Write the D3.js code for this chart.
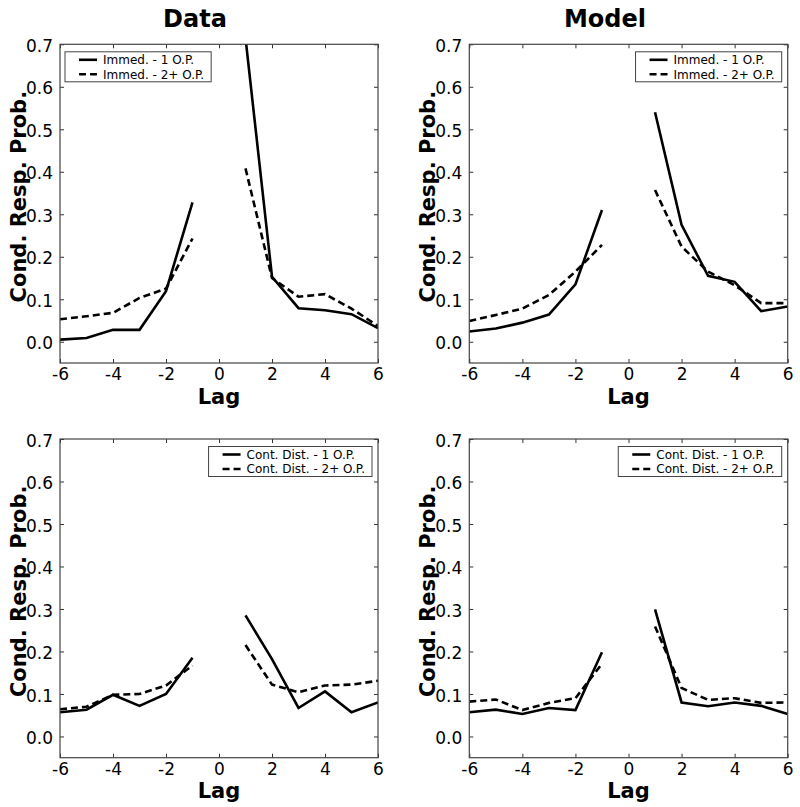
<!DOCTYPE html>
<html>
<head>
<meta charset="utf-8">
<script src="https://cdn.jsdelivr.net/npm/d3@7"></script>
<style>
  html, body { margin: 0; padding: 0; background: #fff; }
  svg { display: block; }
  text { font-family: "DejaVu Sans", sans-serif; fill: #000; }
</style>
</head>
<body>
<svg id="chart" width="800" height="807"></svg>
<script>
// ---- data ----
const lagsNeg = [-6, -5, -4, -3, -2, -1];
const lagsPos = [1, 2, 3, 4, 5, 6];
const xTicks = [-6, -4, -2, 0, 2, 4, 6];
const yTicks = [0.0, 0.1, 0.2, 0.3, 0.4, 0.5, 0.6, 0.7];
const columnTitles = ["Data", "Model"];

// Immediate, Data
const dataImm1Neg = [0.005, 0.009, 0.028, 0.028, 0.119, 0.328];
const dataImm1Pos = [0.715, 0.153, 0.079, 0.074, 0.065, 0.032];
const dataImm2Neg = [0.053, 0.060, 0.068, 0.103, 0.125, 0.243];
const dataImm2Pos = [0.408, 0.150, 0.106, 0.112, 0.078, 0.037];
// Immediate, Model
const modelImm1Neg = [0.024, 0.031, 0.045, 0.064, 0.135, 0.310];
const modelImm1Pos = [0.540, 0.275, 0.155, 0.141, 0.072, 0.083];
const modelImm2Neg = [0.049, 0.063, 0.078, 0.110, 0.165, 0.228];
const modelImm2Pos = [0.357, 0.224, 0.165, 0.133, 0.091, 0.091];
// Continual distractor, Data
const dataCd1Neg = [0.057, 0.063, 0.098, 0.072, 0.100, 0.185];
const dataCd1Pos = [0.285, 0.182, 0.067, 0.106, 0.057, 0.080];
const dataCd2Neg = [0.064, 0.070, 0.098, 0.100, 0.120, 0.167];
const dataCd2Pos = [0.215, 0.122, 0.104, 0.120, 0.122, 0.131];
// Continual distractor, Model
const modelCd1Neg = [0.057, 0.063, 0.053, 0.067, 0.062, 0.198];
const modelCd1Pos = [0.299, 0.080, 0.071, 0.080, 0.072, 0.053];
const modelCd2Neg = [0.082, 0.087, 0.062, 0.079, 0.090, 0.171];
const modelCd2Pos = [0.259, 0.114, 0.086, 0.090, 0.079, 0.080];

const legendImm = ["Immed. - 1 O.P.", "Immed. - 2+ O.P."];
const legendCd = ["Cont. Dist. - 1 O.P.", "Cont. Dist. - 2+ O.P."];

const panels = [
  { col: 0, row: 0, s1: [dataImm1Neg, dataImm1Pos], s2: [dataImm2Neg, dataImm2Pos], legend: legendImm, loc: "left" },
  { col: 1, row: 0, s1: [modelImm1Neg, modelImm1Pos], s2: [modelImm2Neg, modelImm2Pos], legend: legendImm, loc: "right" },
  { col: 0, row: 1, s1: [dataCd1Neg, dataCd1Pos], s2: [dataCd2Neg, dataCd2Pos], legend: legendCd, loc: "right" },
  { col: 1, row: 1, s1: [modelCd1Neg, modelCd1Pos], s2: [modelCd2Neg, modelCd2Pos], legend: legendCd, loc: "right" }
];

// ---- layout ----
const colX = [[60, 378], [469.3, 787.7]];
const rowY = [[44.3, 363], [439, 757.7]];
const lagOffset = [41, 40.5];
const titleX = [195, 605];

const svg = d3.select("#chart");

columnTitles.forEach((t, i) => {
  svg.append("text")
    .attr("x", titleX[i]).attr("y", 26.5)
    .attr("text-anchor", "middle")
    .style("font-size", "24px").style("font-weight", "bold")
    .text(t);
});

panels.forEach(p => {
  const [x0, x1] = colX[p.col];
  const [y0, y1] = rowY[p.row];
  const x = d3.scaleLinear().domain([-6, 6]).range([x0, x1]);
  const y = d3.scaleLinear().domain([-0.05, 0.7]).range([y1, y0]);
  const g = svg.append("g");

  const clipId = `clip-${p.col}-${p.row}`;
  g.append("clipPath").attr("id", clipId)
    .append("rect").attr("x", x0).attr("y", y0).attr("width", x1 - x0).attr("height", y1 - y0);

  const line = d3.line().x(d => x(d[0])).y(d => y(d[1]));
  const plotG = g.append("g").attr("clip-path", `url(#${clipId})`);

  const drawSeries = (vals, dash) => {
    [[lagsNeg, vals[0]], [lagsPos, vals[1]]].forEach(([lags, v]) => {
      plotG.append("path")
        .datum(lags.map((l, i) => [l, v[i]]))
        .attr("d", line)
        .attr("fill", "none")
        .attr("stroke", "#000")
        .attr("stroke-width", 2.6)
        .attr("stroke-linejoin", "miter")
        .attr("stroke-dasharray", dash);
    });
  };
  drawSeries(p.s2, "7,4");
  drawSeries(p.s1, null);

  // axes (ticks inward on all four sides)
  const tickLen = 4;
  const axB = d3.axisBottom(x).tickValues(xTicks).tickSizeInner(-tickLen).tickSizeOuter(0).tickPadding(6)
    .tickFormat(d => d);
  const axT = d3.axisTop(x).tickValues(xTicks).tickSizeInner(-tickLen).tickSizeOuter(0).tickFormat("");
  const axL = d3.axisLeft(y).tickValues(yTicks).tickSizeInner(-tickLen).tickSizeOuter(0).tickPadding(7)
    .tickFormat(d3.format(".1f"));
  const axR = d3.axisRight(y).tickValues(yTicks).tickSizeInner(-tickLen).tickSizeOuter(0).tickFormat("");

  const gB = g.append("g").attr("transform", `translate(0,${y1})`).call(axB);
  const gT = g.append("g").attr("transform", `translate(0,${y0})`).call(axT);
  const gL = g.append("g").attr("transform", `translate(${x0},0)`).call(axL);
  const gR = g.append("g").attr("transform", `translate(${x1},0)`).call(axR);
  [gB, gT, gL, gR].forEach(a => {
    a.select(".domain").remove();
    a.selectAll(".tick line").attr("stroke", "#333").attr("stroke-width", 1);
    a.selectAll(".tick text").style("font-size", "17px").style("font-family", "'DejaVu Sans', sans-serif").attr("fill", "#000");
  });
  gB.selectAll(".tick text").attr("dy", "0.71em").attr("y", 5);
  gL.selectAll(".tick text").attr("dy", "0.42em");

  // frame
  g.append("rect").attr("x", x0).attr("y", y0).attr("width", x1 - x0).attr("height", y1 - y0)
    .attr("fill", "none").attr("stroke", "#444").attr("stroke-width", 1.2);

  // axis labels
  g.append("text")
    .attr("x", (x0 + x1) / 2).attr("y", y1 + lagOffset[p.row])
    .attr("text-anchor", "middle")
    .style("font-size", "21px").style("font-weight", "bold")
    .text("Lag");
  g.append("text")
    .attr("transform", `translate(${x0 - 34},${(y0 + y1) / 2 - 7}) rotate(-90)`)
    .attr("text-anchor", "middle")
    .style("font-size", "21px").style("font-weight", "bold")
    .text("Cond. Resp. Prob.");

  // legend
  const lg = g.append("g");
  const texts = p.legend.map((t, i) => lg.append("text")
    .attr("x", 0).attr("y", 0)
    .style("font-size", "12px")
    .text(t));
  const tw = d3.max(texts, t => t.node().getComputedTextLength());
  const padL = 14, sample = 18, gap = 6, padR = 7;
  const w = padL + sample + gap + tw + padR;
  const h = 30;
  const bx = p.loc === "left" ? x0 + 5 : x1 - 6 - w;
  const by = y0 + 7.5;
  lg.insert("rect", "text").attr("x", bx).attr("y", by).attr("width", w).attr("height", h)
    .attr("fill", "#fff").attr("stroke", "#444").attr("stroke-width", 1);
  const rowsY = [by + 8, by + 22.5];
  texts.forEach((t, i) => {
    t.attr("x", bx + padL + sample + gap).attr("y", rowsY[i]).attr("dy", "0.36em");
    lg.append("line")
      .attr("x1", bx + padL).attr("x2", bx + padL + sample)
      .attr("y1", rowsY[i]).attr("y2", rowsY[i])
      .attr("stroke", "#000").attr("stroke-width", 2.6)
      .attr("stroke-dasharray", i === 0 ? null : "7,4");
  });
});
</script>
</body>
</html>
